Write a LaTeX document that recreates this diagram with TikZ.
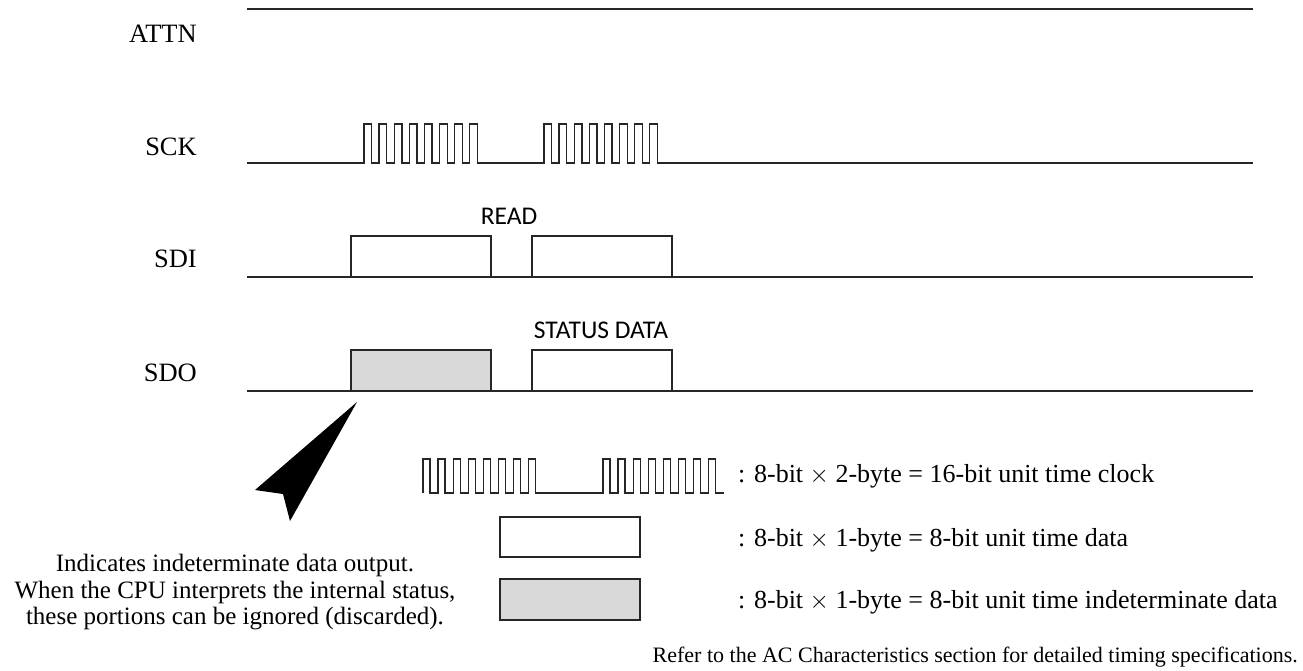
\documentclass[tikz,border=0pt]{standalone}
\usepackage{fontspec}
\setmainfont{Liberation Serif}
\newfontfamily\labelsans{Carlito}
\usepackage{tikz}
\usetikzlibrary{calc}
\tikzset{sig/.style={line width=1.3pt, black!85}}
\tikzset{box/.style={line width=1.3pt, black!85}}
\tikzset{l/.style={font=\fontsize{26.5}{26.5}\selectfont, inner sep=0pt}}
\tikzset{k/.style={font=\fontsize{26}{26}\selectfont, inner sep=0pt}}
\tikzset{s/.style={font=\labelsans\fontsize{25.5}{25.5}\selectfont, inner sep=0pt}}
\tikzset{n/.style={font=\fontsize{25}{26.5}\selectfont, inner sep=0pt, align=center}}
\tikzset{r/.style={font=\fontsize{22}{22}\selectfont, inner sep=0pt}}
\definecolor{indet}{gray}{0.85}

\begin{document}
\begin{tikzpicture}[x=1pt, y=-1pt]
    \useasboundingbox (0,0) rectangle (1303,670);
    % signal names
    \node [l, anchor=base east] (attn) at (197,42) {ATTN};
    \node [l, anchor=base east] (sck) at (197,155) {SCK};
    \node [l, anchor=base east] (sdi) at (197,267) {SDI};
    \node [l, anchor=base east] (sdo) at (197,381) {SDO};
    % ATTN
    \coordinate (A0) at (247,9);
    \coordinate (A1) at (1253,9);
    \draw[sig] (A0) -- (A1);
    % SCK, two bursts of 8 clocks
    \coordinate (C0) at (247,163);
    \coordinate (C1) at (1253,163);
    \draw[sig] (C0) -- (364,163)
      \foreach \i in {0,...,7} { -- ++(0,-39) -- ++(7.7,0) -- ++(0,39) -- ++(7.4,0) }
      -- (544,163)
      \foreach \i in {0,...,7} { -- ++(0,-39) -- ++(7.7,0) -- ++(0,39) -- ++(7.4,0) }
      -- (C1);
    % SDI
    \coordinate (D0) at (247,277);
    \coordinate (D1) at (1253,277);
    \draw[sig] (D0) -- (D1);
    \draw[box] (351,277) rectangle (491,236);
    \draw[box] (532,277) rectangle (672,236);
    \node [s, anchor=base] (read) at (509,224) {READ};
    % SDO
    \coordinate (O0) at (247,391);
    \coordinate (O1) at (1253,391);
    \draw[sig] (O0) -- (O1);
    \draw[box, fill=indet] (351,391) rectangle (491,350);
    \draw[box] (532,391) rectangle (672,350);
    \node [s, anchor=base] (stat) at (601,338) {STATUS DATA};
    % pointer to the indeterminate part
    \fill (357,402) -- (255,490) -- (283,494) -- (290,521) -- cycle;
    \node [n, anchor=north] (note) at (235,554) {Indicates indeterminate data output.\\When the CPU interprets the internal status,\\these portions can be ignored (discarded).};
    % legend
    \draw[sig] (423,493)
      \foreach \i in {0,...,7} { -- ++(0,-34) -- ++(7,0) -- ++(0,34) -- ++(8.1,0) }
      -- (603,493)
      \foreach \i in {0,...,7} { -- ++(0,-34) -- ++(7,0) -- ++(0,34) -- ++(8.1,0) };
    \draw[box] (500,517) rectangle (640,557);
    \draw[box, fill=indet] (500,579) rectangle (640,620);
    \node [k, anchor=west] (lclk) at (738,476) {: 8-bit $\times$ 2-byte = 16-bit unit time clock};
    \node [k, anchor=west] (ldat) at (738,540) {: 8-bit $\times$ 1-byte = 8-bit unit time data};
    \node [k, anchor=west] (lind) at (738,602) {: 8-bit $\times$ 1-byte = 8-bit unit time indeterminate data};
    \node [r, anchor=base east] (ref) at (1298,662) {Refer to the AC Characteristics section for detailed timing specifications.};
  \end{tikzpicture}
\end{document}
